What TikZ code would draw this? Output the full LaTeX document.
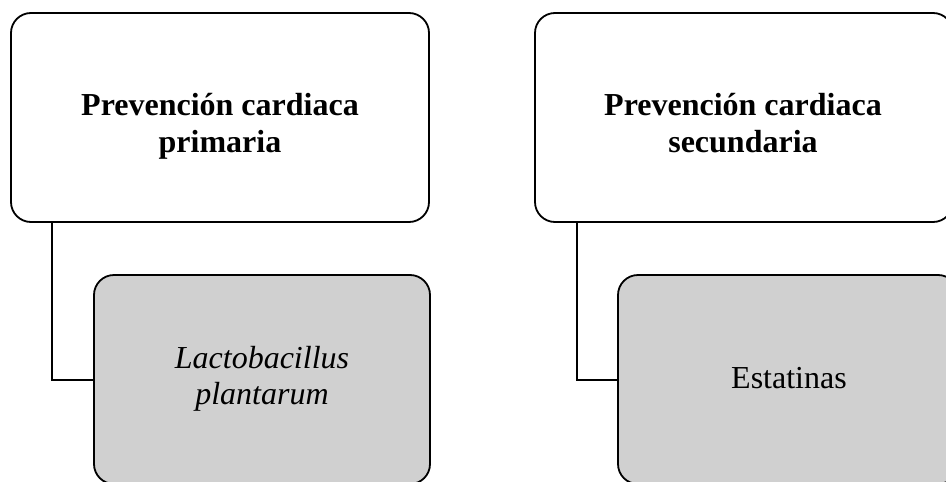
\documentclass[tikz,border=0pt]{standalone}
\usepackage{fontspec}
\setmainfont{Liberation Serif}
\definecolor{boxgray}{RGB}{208,208,208}
\begin{document}
\begin{tikzpicture}[x=1pt,y=-1pt,
  topbox/.style={draw=black, line width=1.8pt, fill=white, rounded corners=20pt, inner sep=0pt},
  subbox/.style={draw=black, line width=1.8pt, fill=boxgray, rounded corners=20pt, inner sep=0pt},
  toptext/.style={inner sep=0pt, align=center, anchor=north, font=\fontsize{32}{37}\selectfont\bfseries},
  subtext/.style={inner sep=0pt, align=center, font=\fontsize{32}{36}\selectfont},
  link/.style={draw=black, line width=1.6pt}]
\useasboundingbox (0,0) rectangle (946,482);
\clip (0,0) rectangle (946,482);
\node[topbox, minimum width=418pt, minimum height=209pt] (tl) at (220,117.5) {};
\node[topbox, minimum width=418pt, minimum height=209pt] (tr) at (744,117.5) {};
\node[toptext] (tlt) at (220,89.5) {\strut Prevención cardiaca\strut\\\strut primaria\strut};
\node[toptext] (trt) at (743,89.5) {\strut Prevención cardiaca\strut\\\strut secundaria\strut};
\coordinate (cl) at (52,380);
\coordinate (cr) at (577,380);
\draw[link] (cl |- tl.south) -- (cl) -- (cl -| 100,0);
\draw[link] (cr |- tr.south) -- (cr) -- (cr -| 630,0);
\node[subbox, minimum width=336pt, minimum height=209pt] (gl) at (262,379.5) {};
\node[subbox, minimum width=340pt, minimum height=209pt] (gr) at (788,379.5) {};
\node[subtext, anchor=north] (glt) at (262,342.8) {\itshape\strut Lactobacillus\strut\\\itshape\strut plantarum\strut};
\node[subtext, anchor=base] (grt) at (789,388) {Estatinas};
\end{tikzpicture}
\end{document}
